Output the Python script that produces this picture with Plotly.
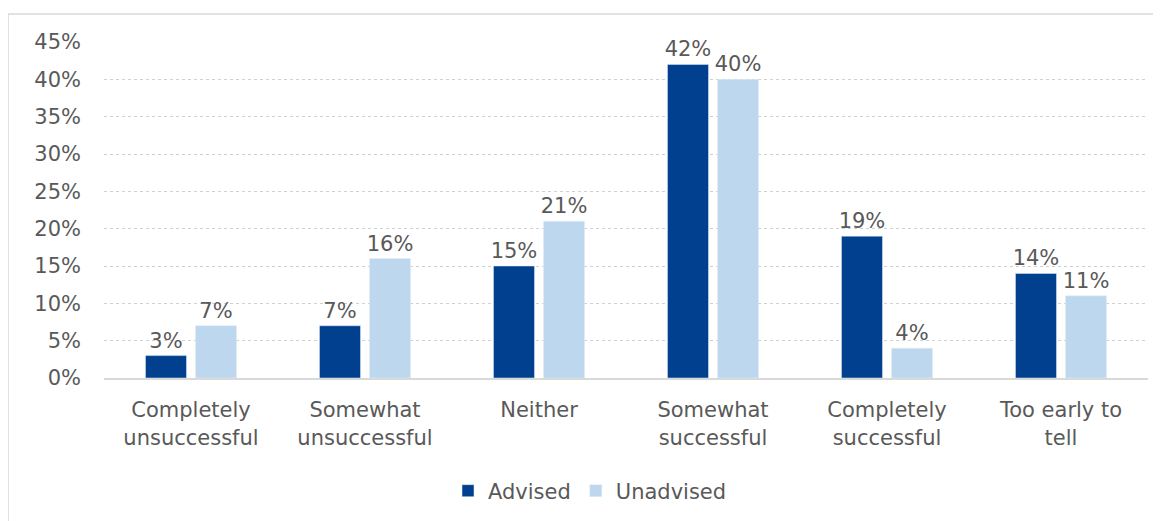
import plotly.graph_objects as go

categories = ["Completely<br>unsuccessful", "Somewhat<br>unsuccessful", "Neither",
              "Somewhat<br>successful", "Completely<br>successful", "Too early to<br>tell"]
advised = [3, 7, 15, 42, 19, 14]
unadvised = [7, 16, 21, 40, 4, 11]
y_ticks = [0, 5, 10, 15, 20, 25, 30, 35, 40, 45]
y_tick_labels = [f"{v}%" for v in y_ticks]

OFF = 8  # page body margin
W, H = 1161 - OFF, 521 - OFF
# target page coordinates of plot area
PL, PR, PT, PB = 104, 1148, 42, 378
L = PL - OFF
T = PT - OFF
R = W - (PR - OFF)
B = H - (PB - OFF)
pw = W - L - R
ph = H - T - B

font = dict(family="DejaVu Sans, Verdana, sans-serif", size=21, color="#595959")

fig = go.Figure()
fig.add_trace(go.Bar(name="Advised", x=categories, y=advised, marker_color="#00408F",
                     text=advised, texttemplate="%{text}%", textposition="outside",
                     textfont=font, cliponaxis=False, constraintext="none"))
fig.add_trace(go.Bar(name="Unadvised", x=categories, y=unadvised, marker_color="#BDD7EE",
                     text=unadvised, texttemplate="%{text}%", textposition="outside",
                     textfont=font, cliponaxis=False, constraintext="none"))

def px_x(p):
    return (p - PL) / pw

def px_y(p):
    return (PB - p) / ph

fig.update_layout(
    width=W, height=H,
    margin=dict(l=L, r=R, t=T, b=B, autoexpand=False),
    paper_bgcolor="white", plot_bgcolor="white",
    font=font,
    barmode="group", bargap=0.425, bargroupgap=0.18,
    showlegend=True,
    legend=dict(orientation="h", x=px_x(590), xanchor="center", y=px_y(491), yanchor="middle",
                font=font, itemwidth=30, traceorder="normal"),
    shapes=[
        dict(type="line", xref="paper", yref="paper", x0=px_x(8), x1=px_x(1200),
             y0=px_y(14), y1=px_y(14), line=dict(color="#D9D9D9", width=1.5)),
        dict(type="line", xref="paper", yref="paper", x0=px_x(8), x1=px_x(8),
             y0=px_y(14), y1=px_y(560), line=dict(color="#D9D9D9", width=1.5)),
    ],
)
fig.update_yaxes(range=[0, 45], tickvals=y_ticks, ticktext=y_tick_labels,
                 showgrid=True, gridcolor="#D0D0D0", griddash="dot", gridwidth=1,
                 zeroline=False, showline=False, ticks="", ticklabelstandoff=22,
                 tickfont=font)
fig.update_xaxes(showline=True, linecolor="#D9D9D9", linewidth=2, ticks="",
                 tickfont=font, ticklabelstandoff=12)

fig.write_html("out.html")
